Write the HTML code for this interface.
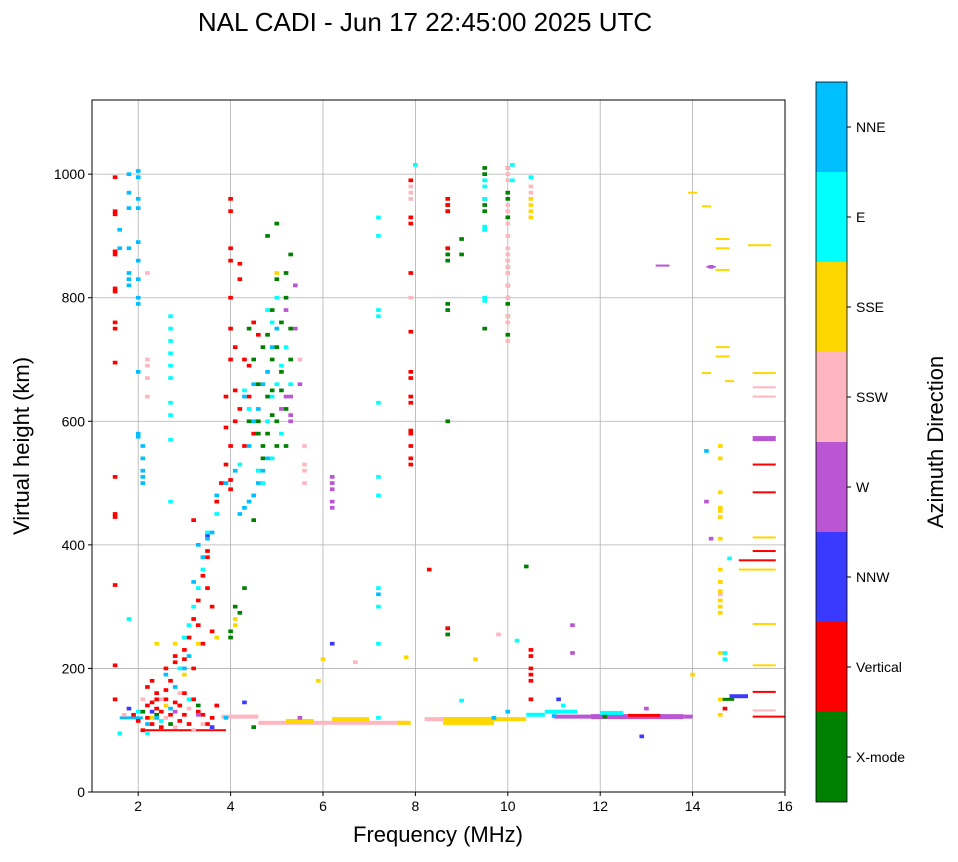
<!DOCTYPE html>
<html><head><meta charset="utf-8"><style>
body{margin:0;background:#fff;width:958px;height:857px;overflow:hidden;font-family:"Liberation Sans",sans-serif}
svg text{font-family:"Liberation Sans",sans-serif}
</style></head><body>
<svg id="chart" width="958" height="857" xmlns="http://www.w3.org/2000/svg">
<text x="425" y="31" font-size="26" text-anchor="middle">NAL CADI - Jun 17 22:45:00 2025 UTC</text>
<g id="grid"></g>
<g id="marks"></g>
<rect x="92" y="100" width="693" height="692" fill="none" stroke="#000" stroke-width="1"/>
<g id="axes"></g>
<text x="438" y="842" font-size="22" text-anchor="middle">Frequency (MHz)</text>
<text transform="translate(29,446) rotate(-90)" font-size="22" text-anchor="middle">Virtual height (km)</text>
<g id="cbar"></g>
<text transform="translate(943,442) rotate(-90)" font-size="22" text-anchor="middle">Azimuth Direction</text>
</svg>
<script>
const classNames=["X-mode","Vertical","NNW","W","SSW","SSE","E","NNE"];
const classColors=["#008000","#ff0000","#3a3aff","#ba55d3","#ffb6c1","#ffd700","#00ffff","#00bfff"];
const xTicks=[2,4,6,8,10,12,14,16];
const yTicks=[0,200,400,600,800,1000];
const xmodePts=[[4,250],[4,260],[4.1,300],[4.3,330],[4.2,290],[4.5,440],[4.6,520],[4.7,560],[4.6,600],[4.8,640],[4.9,700],[5,720],[5.1,760],[5.2,800],[4.9,780],[5,830],[5.2,840],[5.3,700],[5.2,620],[4.8,580],[4.7,540],[5.1,680],[5,600],[4.9,650],[5.3,750],[5,920],[5.3,870],[4.6,660],[4.5,700],[5.1,650],[4.7,720],[4.9,610],[5.2,560],[4.4,750],[4.8,900],[4.4,600],[4.6,580],[5,560],[4.8,740],
[8.7,950],[8.7,940],[8.7,880],[8.7,870],[8.7,860],[8.7,790],[8.7,780],[8.7,600],[8.7,265],[8.7,255],[9.5,1010],[9.5,1000],[9.5,960],[9.5,950],[9.5,940],[9.5,910],[9.5,750],[9,870],[9,895],[10,970],[10,960],[10,930],[10,850],[10,820],[10,800],[10,790],[10,770],[10,740],[10.4,365],[2.1,130],[4.5,105],[2.7,110],[12.1,122],[3.3,140],[2.4,125]];
const verticalPts=[[1.5,995],[1.5,940],[1.5,935],[1.5,875],[1.5,870],[1.5,815],[1.5,810],[1.5,760],[1.5,750],[1.5,695],[1.5,510],[1.5,450],[1.5,445],[1.5,335],[1.5,205],[1.5,150],
[2.2,170],[2.4,160],[2.3,145],[2.6,200],[2.8,210],[3,230],[3.1,250],[3.2,280],[3.3,310],[3.4,350],[3.5,380],[3.5,390],[3.6,300],[3.2,440],[3.7,470],[3.8,500],[3.9,530],[4,560],[4,490],[4,505],[4.1,600],[4.1,650],[4,700],[4,750],[4,800],[4,860],[4,880],[4,940],[4,960],[4.2,620],[4.3,560],[4.4,690],[4.5,760],[4.2,830],[4.2,855],[3.9,640],[4.5,580],[4.6,740],[3.2,200],[3.4,240],[3.6,260],[2.8,220],[2.5,130],[2.2,120],[2.9,140],[3.1,110],[2.5,105],[2.1,100],[2.3,180],[2.6,150],[3,160],[3.3,130],[3.6,120],[2.7,125],[2,115],[4.3,700],[4.1,720],[3.9,590],[4.4,640],[3.5,330],[3.3,270],[3,215],
[2.2,140],[2.4,135],[2.6,165],[2.8,145],[3,125],[3.2,150],[3.4,125],[3.7,140],[1.9,125],[2.3,110],[2.9,115],[3.5,110],[2.7,180],[2.4,150],
[7.9,990],[7.9,930],[7.9,920],[7.9,840],[7.9,745],[7.9,680],[7.9,670],[7.9,640],[7.9,630],[7.9,585],[7.9,580],[7.9,560],[7.9,540],[7.9,530],[8.3,360],[8.7,960],[8.7,950],[8.7,940],[8.7,880],[8.7,265],[10.5,230],[10.5,220],[10.5,200],[10.5,190],[10.5,180],[10.5,150],[10,1010],[14.7,135]];
const nnwPts=[[6.2,240],[12.9,90],[11.1,150],[1.8,135],[3.6,105],[4.3,145],[2.3,130],[3.5,415]];
const wPts=[[6.2,500],[6.2,490],[6.2,510],[6.2,470],[6.2,460],[5.5,660],[5.3,640],[5.3,610],[5.3,600],[5.4,750],[5.4,820],[5.2,780],[14.4,850],[14.3,470],[14.4,410],[11.4,270],[11.4,225],[13,135],[2.8,130],[5.5,120],[5.1,620],[5.2,640],[3.3,125]];
const sswPts=[[2.2,840],[2.2,700],[2.2,690],[2.2,670],[2.2,640],[7.9,980],[7.9,970],[7.9,960],[7.9,800],[10,1010],[10,1000],[10,990],[10,950],[10,940],[10,920],[10,900],[10,880],[10,870],[10,860],[10,850],[10,840],[10,820],[10,800],[10,770],[10,760],[10,730],[10.5,980],[10.5,970],[5.6,560],[5.6,530],[5.6,520],[5.6,500],[3.2,100],[6.7,210],[14.6,340],[9.8,255],[2.9,160],[2.5,150],[5.5,700],[14.6,320],[2.6,120],[3.4,110],[1.7,125],[2.1,150],[3.1,135],[2.8,105]];
const ssePts=[[14.6,560],[14.6,540],[14.6,485],[14.6,460],[14.6,455],[14.6,445],[14.6,410],[14.6,360],[14.6,340],[14.6,325],[14.6,310],[14.6,300],[14.6,290],[14.6,225],[14.6,150],[14.6,125],[14,190],[10.5,960],[10.5,950],[10.5,940],[10.5,930],[7.8,218],[9.3,215],[5,840],[3,190],[2.8,240],[2.4,240],[4.1,270],[4.1,280],[6,215],[5.9,180],[3.3,240],[2.6,140],[3.7,250],[2.3,120]];
const ePts=[[7.2,930],[7.2,900],[7.2,780],[7.2,770],[7.2,630],[7.2,510],[7.2,480],[7.2,330],[7.2,300],[7.2,240],[7.2,120],[9.5,990],[9.5,980],[9.5,960],[9.5,915],[9.5,910],[9.5,800],[9.5,795],[10.1,1015],[10.1,990],[10.5,995],[2.7,770],[2.7,750],[2.7,730],[2.7,710],[2.7,690],[2.7,670],[2.7,630],[2.7,610],[2.7,570],[2.7,470],
[3.3,330],[3.1,270],[3.2,300],[3.4,360],[3.5,420],[3.7,450],[4.6,520],[4.8,600],[4.9,640],[5,660],[5.1,690],[5.2,720],[4.7,500],[4.5,480],[4.2,530],[4.8,780],[4.9,760],[5,800],[4.3,650],[14.7,225],[14.7,215],[14.8,378],[10.2,245],[11.2,140],[9,148],[1.8,280],[8,1015],[2,130],[2.2,95],[1.6,95],[4.4,620],[5.1,580],[5.3,660],[4.9,540],[2.9,200],[3,250],[2.5,115],[3.1,150]];
const nnePts=[[2,1005],[2,995],[2,960],[2,945],[2,890],[2,860],[2,830],[2,800],[2,790],[2,680],[1.8,1000],[1.8,970],[1.8,945],[1.8,880],[1.8,840],[1.8,830],[1.8,820],[1.6,910],[1.6,880],[2,580],[2,575],[2.1,560],[2.1,540],[2.1,520],[2.1,510],[2.1,500],
[3.3,400],[3.5,410],[3.6,420],[3.7,480],[3.9,500],[4.2,450],[4.3,460],[4.4,470],[4.5,480],[4.6,500],[4.7,520],[4.8,540],[4.4,560],[4.5,600],[4.6,620],[4.8,680],[4.9,720],[5,750],[4.1,520],[3.1,220],[3,200],[2.6,190],[7.2,320],[14.3,552],[11,123],[9.7,120],[10,130],[2.2,110],[2.4,120],[3.4,380],[3.2,340],[4.3,640],[4.7,660],[4.5,660],[2.8,170],[3.9,120],[2.7,135]];
const bandStart=[3.8,4.6,5.2,6.2,7.6,8.2,8.6,9.7,10.4,10.8,11,11.8,12,12.6,12.6,13.8,14.8,14.6,15.3,15.3,15.3,15.3,15.3,15.3,15.0,15.0,15.3,15.3,15.3,15.3,15.3,15.3,15.3,15.2,14.5,14.5,14.5,14.5,14.5,14.2,14.7,14.3,13.2,14.2,13.9,2.1,1.6];
const bandEnd=[4.6,7.8,5.8,7.0,7.9,8.6,9.7,10.4,10.8,11.5,11.8,12.6,12.5,13.8,13.3,14,15.2,14.9,16,15.8,15.8,15.8,15.8,15.8,15.8,15.8,15.8,15.8,15.8,15.8,15.8,15.8,15.8,15.7,14.8,14.8,14.8,14.8,14.8,14.4,14.9,14.5,13.5,14.4,14.1,3.9,2.1];
const bandHeight=[122,112,115,118,112,118,115,118,125,130,122,122,128,122,124,122,155,150,122,572,530,485,412,390,375,360,272,205,162,132,678,655,640,885,895,880,845,720,705,678,665,850,852,948,970,100,120];
const bandClass=[4,4,5,5,5,4,5,5,6,6,3,3,6,3,1,3,2,0,1,3,1,1,5,1,1,5,5,5,1,4,5,4,4,5,5,5,5,5,5,5,5,3,3,5,5,1,7];
const bandThick=[4,4,4,4,4,4,8,4,4,4,4,5,4,5,3,4,4,3,2,5,2,2,2,2,2,2,2,2,2,2,2,2,2,2,2,2,2,2,2,2,2,2,2,2,2,2,3];

const X0=92,X1=785,Y0=792,YT=100,F0=1,F1=16,HMAX=1120;
function xs(f){return X0+(f-F0)/(F1-F0)*(X1-X0);}
function ys(h){return Y0-h/HMAX*(Y0-YT);}
const NS="http://www.w3.org/2000/svg";
function mk(tag,attrs,parent){const e=document.createElementNS(NS,tag);for(const k in attrs)e.setAttribute(k,attrs[k]);parent.appendChild(e);return e;}
const grid=document.getElementById('grid'),axes=document.getElementById('axes'),marks=document.getElementById('marks'),cbar=document.getElementById('cbar');
xTicks.forEach(t=>{const x=xs(t);
 const g=mk('line',{x1:x,x2:x,y1:YT,y2:Y0,stroke:'#b0b0b0','stroke-width':0.8},grid);
 
 mk('line',{x1:x,x2:x,y1:Y0,y2:Y0+4,stroke:'#000'},axes);
 const tx=mk('text',{x:x,y:Y0+19,'font-size':14,'text-anchor':'middle'},axes);tx.textContent=t;
 });
yTicks.forEach(t=>{const y=ys(t);
 const g=mk('line',{x1:X0,x2:X1,y1:y,y2:y,stroke:'#b0b0b0','stroke-width':0.8},grid);
 
 mk('line',{x1:X0-4,x2:X0,y1:y,y2:y,stroke:'#000'},axes);
 const tx=mk('text',{x:X0-7,y:y+5,'font-size':14,'text-anchor':'end'},axes);tx.textContent=t;
 });
const ptSets=[xmodePts,verticalPts,nnwPts,wPts,sswPts,ssePts,ePts,nnePts];
const CW=0.1,CH=6;
for(let i=0;i<bandStart.length;i++){
 const x=xs(bandStart[i]),w=xs(bandEnd[i])-x,h=bandThick[i];
 const r=mk('rect',{x:x,y:ys(bandHeight[i])-h/2,width:w,height:h,fill:classColors[bandClass[i]]},marks);
 
 }
ptSets.forEach((pts,c)=>{pts.forEach(p=>{
 const x=xs(p[0]-CW/2),w=xs(CW)-xs(0),y=ys(p[1]+CH/2),h=ys(0)-ys(CH);
 const r=mk('rect',{x:x,y:y,width:w,height:h,fill:classColors[c]},marks);
 
 });});
const CB0=82,CB1=802,CBX=816,CBW=31,seg=(CB1-CB0)/classNames.length;
classNames.forEach((n,i)=>{const y=CB1-(i+1)*seg;
 const r=mk('rect',{x:CBX,y:y,width:CBW,height:seg,fill:classColors[i]},cbar);
 
 mk('line',{x1:CBX+CBW,x2:CBX+CBW+4,y1:y+seg/2,y2:y+seg/2,stroke:'#000'},cbar);
 const t=mk('text',{x:CBX+CBW+9,y:y+seg/2+5,'font-size':14},cbar);t.textContent=n;
 });
mk('rect',{x:CBX,y:CB0,width:CBW,height:CB1-CB0,fill:'none',stroke:'#000','stroke-width':0.8},cbar);
</script>
</body></html>
